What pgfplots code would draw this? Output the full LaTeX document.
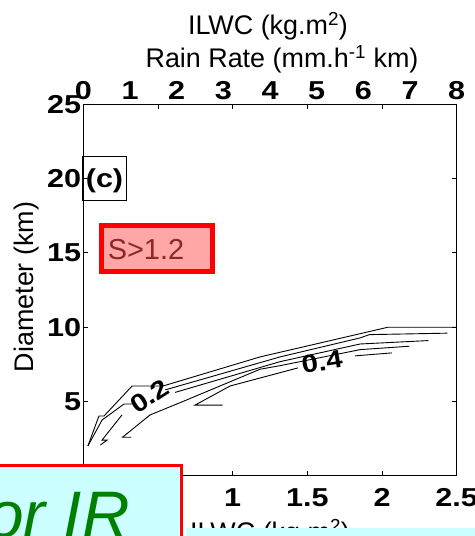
\documentclass[border=0pt]{standalone}
\usepackage{pgfplots}
\pgfplotsset{compat=1.18}
\usepackage{graphicx}
\usepackage{fontspec}
\setmainfont{Liberation Sans}
\definecolor{boxcyan}{RGB}{204,255,255}
\definecolor{boxpink}{RGB}{255,166,166}
\definecolor{sred}{RGB}{140,40,40}
\definecolor{irgreen}{RGB}{0,128,0}
\newcommand\wt[1]{\scalebox{1.18}[1]{#1}}
\begin{document}
\begin{tikzpicture}[x=1bp,y=1bp]
\useasboundingbox (0,0) rectangle (475,536);
\clip (0,0) rectangle (475,536);
\fill[white] (0,0) rectangle (475,536);

% main axis (bottom: ILWC 0..2.5, left: Diameter)
\begin{axis}[
  at={(83.4bp,60.3bp)}, anchor=south west,
  width=373.3bp, height=371.2bp, scale only axis,
  xmin=0, xmax=2.5, ymin=0, ymax=25,
  xtick={0,0.5,1,1.5,2,2.5},
  xticklabels={\wt{0},\wt{0.5},\wt{1},\wt{1.5},\wt{2},\wt{2.5}},
  ytick={0,5,10,15,20,25},
  yticklabels={\wt{0},\wt{5},\wt{10},\wt{15},\wt{20},\wt{25}},
  tick align=inside,
  major tick length=5bp,
  axis line style={line width=1.3bp},
  every tick/.style={black, line width=1bp},
  tick label style={font=\fontsize{26}{26}\selectfont\bfseries},
  xticklabel style={anchor=base, yshift=-31bp, inner sep=0pt},
  yticklabel style={anchor=east, inner sep=0pt, xshift=-2bp},
  clip=false,
]
% contour A (outermost)
\addplot[black, line width=0.9bp] coordinates {
 (0.030,2.00) (0.104,4.02) (0.138,4.02) (0.326,6.04) (0.533,6.04)
 (1.183,8.00) (2.040,10.0) (2.500,10.0)};
% contour B (labelled 0.2)
\addplot[black, line width=0.9bp] coordinates {
 (0.030,2.00) (0.125,3.75) (0.272,4.83) (0.326,4.83)};
\addplot[black, line width=0.9bp] coordinates {
 (0.548,5.78) (1.317,8.00) (1.853,9.28) (1.915,9.50) (2.437,9.60)};
% contour C
\addplot[black, line width=0.9bp] coordinates {
 (0.114,2.07) (0.159,2.40) (0.125,2.40) (0.259,4.10)};
\addplot[black, line width=0.9bp] coordinates {
 (0.614,5.61) (1.317,7.68) (1.853,8.87) (2.310,9.10)};
% contour D
\addplot[black, line width=0.9bp] coordinates {
 (0.322,2.59) (0.262,2.59) (0.446,4.09) (0.667,5.00) (1.183,7.17)
 (1.317,7.41) (1.853,8.49) (2.183,8.72)};
% contour E (labelled 0.4)
\addplot[black, line width=0.9bp] coordinates {
 (0.933,4.75) (0.747,4.75) (0.982,6.04) (1.437,7.26)};
\addplot[black, line width=0.9bp] coordinates {
 (1.819,8.07) (2.065,8.27)};
\node[rotate=33, font=\fontsize{25}{25}\selectfont\bfseries, inner sep=0pt] at (axis cs:0.443,5.33) {\wt{0.2}};
\node[rotate=9, font=\fontsize{25}{25}\selectfont\bfseries, inner sep=0pt] at (axis cs:1.598,7.66) {\wt{0.4}};
\end{axis}

% top axis: Rain Rate 0..8
\begin{axis}[
  at={(83.4bp,60.3bp)}, anchor=south west,
  width=373.3bp, height=371.2bp, scale only axis,
  xmin=0, xmax=8, ymin=0, ymax=25,
  axis x line*=top, hide y axis,
  axis line style={draw=none},
  xtick={0,1,2,3,4,5,6,7,8},
  xticklabels={\wt{0},\wt{1},\wt{2},\wt{3},\wt{4},\wt{5},\wt{6},\wt{7},\wt{8}},
  major tick length=0pt,
  tick label style={font=\fontsize{26}{26}\selectfont\bfseries},
  xticklabel style={anchor=base, yshift=4.5bp, inner sep=0pt},
]
\addplot[draw=none] coordinates {(0,0) (8,25)};
\end{axis}

% titles
\node[anchor=base, font=\fontsize{27}{27}\selectfont, inner sep=0pt] at (268,501) {ILWC (kg.m\textsuperscript{2})};
\node[anchor=base, font=\fontsize{27}{27}\selectfont, inner sep=0pt] at (282,468) {Rain Rate (mm.h\textsuperscript{-1} km)};
\node[anchor=base, font=\fontsize{27}{27}\selectfont, inner sep=0pt] at (270,-5) {ILWC (kg.m\textsuperscript{2})};
\node[rotate=90, font=\fontsize{27}{27}\selectfont, inner sep=0pt] at (27,249) {Diameter (km)};

% (c) box
\draw[black, line width=0.8bp] (82.7,336) rectangle (126,379.3);
\node[font=\fontsize{26}{26}\selectfont\bfseries, inner sep=0pt] at (104.5,355) {\wt{(c)}};

% S>1.2 box
\draw[red, line width=5bp, fill=boxpink] (101.8,264.5) rectangle (212.5,310.8);
\node[font=\fontsize{29}{29}\selectfont, text=sred, inner sep=0pt] at (146,286) {S>1.2};

% overlay boxes
\fill[boxcyan] (186,-10) rectangle (485,8);
\draw[red, line width=3bp, fill=boxcyan] (-10,-10) rectangle (181,70.7);
\node[anchor=base east, font=\fontsize{66}{66}\selectfont\itshape, text=irgreen, inner sep=0pt] at (130,-1) {or IR};
\end{tikzpicture}
\end{document}
